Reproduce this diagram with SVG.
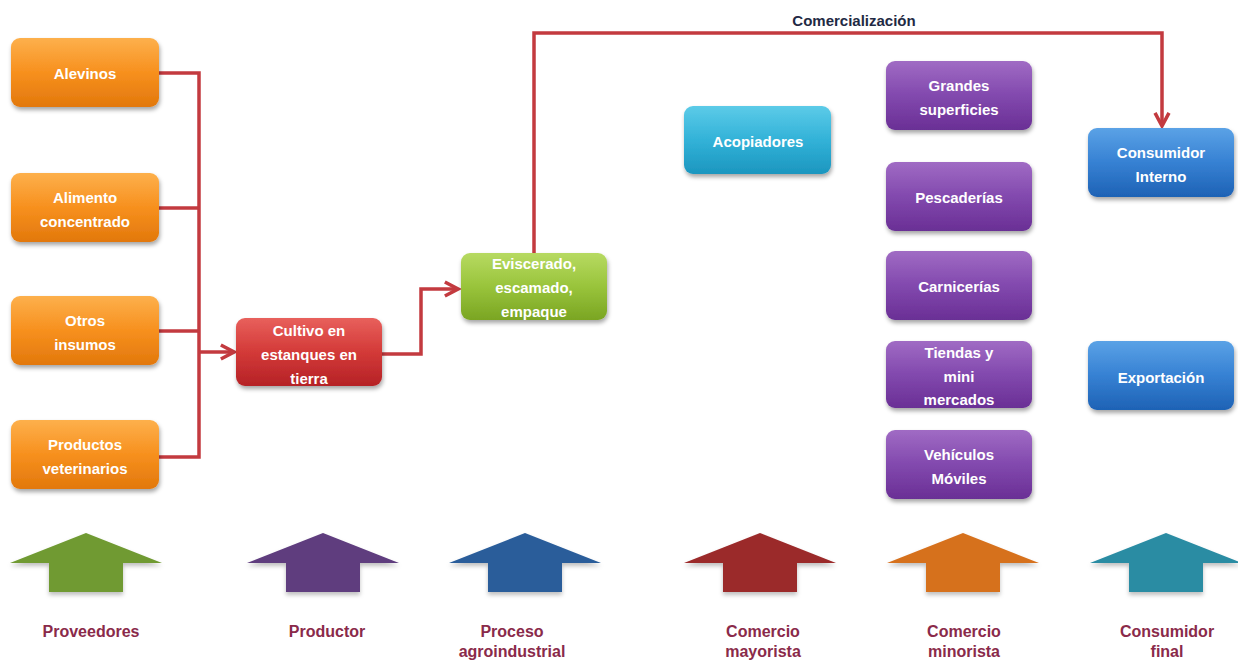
<svg xmlns="http://www.w3.org/2000/svg" width="1238" height="660" viewBox="0 0 1238 660">
<defs>
<linearGradient id="gOr" x1="0" y1="0" x2="0" y2="1"><stop offset="0" stop-color="#FDB04C"/><stop offset="0.5" stop-color="#F7901E"/><stop offset="1" stop-color="#E2780C"/></linearGradient>
<linearGradient id="gRd" x1="0" y1="0" x2="0" y2="1"><stop offset="0" stop-color="#E8605C"/><stop offset="0.5" stop-color="#D33A38"/><stop offset="1" stop-color="#B52226"/></linearGradient>
<linearGradient id="gGr" x1="0" y1="0" x2="0" y2="1"><stop offset="0" stop-color="#B7DA62"/><stop offset="0.5" stop-color="#99C43B"/><stop offset="1" stop-color="#7AA523"/></linearGradient>
<linearGradient id="gCy" x1="0" y1="0" x2="0" y2="1"><stop offset="0" stop-color="#5CCBE8"/><stop offset="0.5" stop-color="#32B2D8"/><stop offset="1" stop-color="#1C96BF"/></linearGradient>
<linearGradient id="gPu" x1="0" y1="0" x2="0" y2="1"><stop offset="0" stop-color="#A06BC4"/><stop offset="0.5" stop-color="#8249AE"/><stop offset="1" stop-color="#6A2F95"/></linearGradient>
<linearGradient id="gBl" x1="0" y1="0" x2="0" y2="1"><stop offset="0" stop-color="#5BA2E6"/><stop offset="0.5" stop-color="#3681D3"/><stop offset="1" stop-color="#1E62B5"/></linearGradient>
<filter id="sh" x="-10%" y="-10%" width="125%" height="130%"><feDropShadow dx="1" dy="3" stdDeviation="2" flood-color="#000" flood-opacity="0.35"/></filter>
<filter id="sh2" x="-10%" y="-10%" width="120%" height="130%"><feDropShadow dx="0" dy="3" stdDeviation="2" flood-color="#000" flood-opacity="0.25"/></filter>
<marker id="ah" viewBox="0 0 10 10" refX="8.5" refY="5" markerWidth="5" markerHeight="5" orient="auto" markerUnits="strokeWidth"><path d="M1,1 L8.5,5 L1,9" fill="none" stroke="#C33A3F" stroke-width="2"/></marker>
<style>
.box{filter:url(#sh);}
.bt{font-family:"Liberation Sans",Arial,sans-serif;font-weight:bold;font-size:15px;fill:#fff;text-anchor:middle;}
.con{fill:none;stroke:#C33A3F;stroke-width:3.5;}
.lbl{font-family:"Liberation Sans",Arial,sans-serif;font-weight:bold;font-size:16px;fill:#8A2A4A;text-anchor:middle;}
.up{filter:url(#sh2);}
</style>
</defs>
<rect width="1238" height="660" fill="#fff"/>

<g id="connectors">
<polyline class="con" points="159,73 199,73 199,457 159,457"/>
<line class="con" x1="159" y1="208" x2="199" y2="208"/>
<line class="con" x1="159" y1="331" x2="199" y2="331"/>
<line class="con" x1="199" y1="352" x2="234" y2="352" marker-end="url(#ah)"/>
<polyline class="con" points="382,354 421,354 421,289 458,289" marker-end="url(#ah)"/>
<polyline class="con" points="534,253 534,33 1162,33 1162,126" marker-end="url(#ah)"/>
<text x="854" y="26" font-family="Liberation Sans,Arial,sans-serif" font-weight="bold" font-size="15" fill="#1F2A44" text-anchor="middle">Comercialización</text>
</g>

<g id="alevinos"><rect class="box" x="11" y="38" width="148" height="69" rx="9" fill="url(#gOr)"/><text class="bt" x="85" y="79">Alevinos</text></g>
<g id="alimento"><rect class="box" x="11" y="173" width="148" height="69" rx="9" fill="url(#gOr)"/><text class="bt" x="85" y="203">Alimento</text><text class="bt" x="85" y="227">concentrado</text></g>
<g id="otros"><rect class="box" x="11" y="296" width="148" height="69" rx="9" fill="url(#gOr)"/><text class="bt" x="85" y="326">Otros</text><text class="bt" x="85" y="350">insumos</text></g>
<g id="productos"><rect class="box" x="11" y="420" width="148" height="69" rx="9" fill="url(#gOr)"/><text class="bt" x="85" y="450">Productos</text><text class="bt" x="85" y="474">veterinarios</text></g>

<g id="cultivo"><rect class="box" x="236" y="318" width="146" height="68" rx="9" fill="url(#gRd)"/><text class="bt" x="309" y="336">Cultivo en</text><text class="bt" x="309" y="360">estanques en</text><text class="bt" x="309" y="384">tierra</text></g>
<g id="eviscerado"><rect class="box" x="461" y="253" width="146" height="67" rx="9" fill="url(#gGr)"/><text class="bt" x="534" y="269">Eviscerado,</text><text class="bt" x="534" y="293">escamado,</text><text class="bt" x="534" y="317">empaque</text></g>
<g id="acopiadores"><rect class="box" x="684" y="106" width="147" height="68" rx="9" fill="url(#gCy)"/><text class="bt" x="758" y="147">Acopiadores</text></g>

<g id="grandes"><rect class="box" x="886" y="61" width="146" height="69" rx="9" fill="url(#gPu)"/><text class="bt" x="959" y="91">Grandes</text><text class="bt" x="959" y="115">superficies</text></g>
<g id="pescaderias"><rect class="box" x="886" y="162" width="146" height="69" rx="9" fill="url(#gPu)"/><text class="bt" x="959" y="203">Pescaderías</text></g>
<g id="carnicerias"><rect class="box" x="886" y="251" width="146" height="69" rx="9" fill="url(#gPu)"/><text class="bt" x="959" y="292">Carnicerías</text></g>
<g id="tiendas"><rect class="box" x="886" y="341" width="146" height="67" rx="9" fill="url(#gPu)"/><text class="bt" x="959" y="358">Tiendas y</text><text class="bt" x="959" y="382">mini</text><text class="bt" x="959" y="405">mercados</text></g>
<g id="vehiculos"><rect class="box" x="886" y="430" width="146" height="69" rx="9" fill="url(#gPu)"/><text class="bt" x="959" y="460">Vehículos</text><text class="bt" x="959" y="484">Móviles</text></g>

<g id="consumidor-interno"><rect class="box" x="1088" y="128" width="146" height="69" rx="9" fill="url(#gBl)"/><text class="bt" x="1161" y="158">Consumidor</text><text class="bt" x="1161" y="182">Interno</text></g>
<g id="exportacion"><rect class="box" x="1088" y="341" width="146" height="69" rx="9" fill="url(#gBl)"/><text class="bt" x="1161" y="383">Exportación</text></g>

<g id="stage-proveedores"><path class="up" d="M86,533 L162,563 L123,563 L123,592 L49,592 L49,563 L10,563 Z" fill="#6F9A32"/><text class="lbl" x="91" y="637">Proveedores</text></g>
<g id="stage-productor"><path class="up" d="M323,533 L399,563 L360,563 L360,592 L286,592 L286,563 L247,563 Z" fill="#5E3C7E"/><text class="lbl" x="327" y="637">Productor</text></g>
<g id="stage-proceso"><path class="up" d="M525,533 L601,563 L562,563 L562,592 L488,592 L488,563 L449,563 Z" fill="#2A5D9A"/><text class="lbl" x="512" y="637">Proceso</text><text class="lbl" x="512" y="657">agroindustrial</text></g>
<g id="stage-mayorista"><path class="up" d="M760,533 L836,563 L797,563 L797,592 L723,592 L723,563 L684,563 Z" fill="#9B2A2A"/><text class="lbl" x="763" y="637">Comercio</text><text class="lbl" x="763" y="657">mayorista</text></g>
<g id="stage-minorista"><path class="up" d="M963,533 L1039,563 L1000,563 L1000,592 L926,592 L926,563 L887,563 Z" fill="#D6711F"/><text class="lbl" x="964" y="637">Comercio</text><text class="lbl" x="964" y="657">minorista</text></g>
<g id="stage-consumidor"><path class="up" d="M1166,533 L1242,563 L1203,563 L1203,592 L1129,592 L1129,563 L1090,563 Z" fill="#2A8CA3"/><text class="lbl" x="1167" y="637">Consumidor</text><text class="lbl" x="1167" y="657">final</text></g>
</svg>
